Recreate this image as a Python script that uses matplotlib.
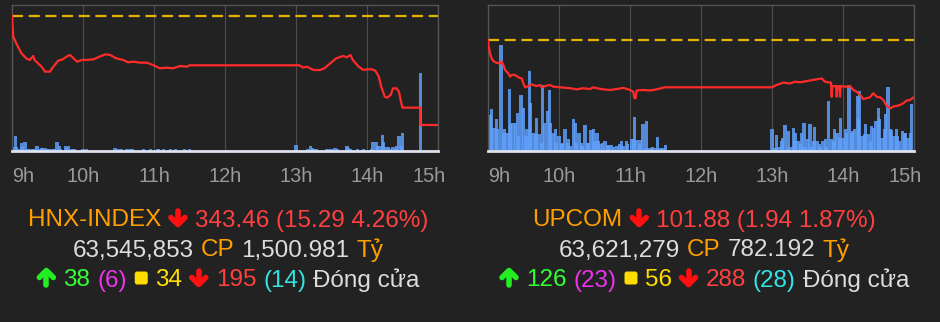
import matplotlib
matplotlib.use('Agg')
import matplotlib.pyplot as plt
from matplotlib.lines import Line2D
from matplotlib.patches import FancyBboxPatch
from matplotlib.transforms import IdentityTransform, offset_copy

plt.rcParams['font.family'] = ['Liberation Sans', 'DejaVu Sans']

W, H = 940, 322
BG = '#222222'

# time axis: minutes after 9:00
hour_ticks = [0, 60, 120, 180, 240, 300, 360]
hour_labels = ['9h', '10h', '11h', '12h', '13h', '14h', '15h']

# ---- HNX-INDEX ----
hnx_ref = 358.75
hnx_min = [0, 1, 3, 5, 8, 12, 15, 18, 19, 22, 25, 28, 32, 35, 39, 43, 46, 49, 52, 55,
           59, 63, 69, 74, 79, 83, 88, 94, 98, 103, 108, 114, 119, 125, 131, 136, 142, 148, 150, 243,
           246, 249, 255, 260, 264, 269, 274, 280, 283, 286, 288, 293, 297, 300, 304, 307, 310, 312, 315, 317,
           320, 322, 325, 327, 329, 330, 345, 345, 360]
hnx_val = [358.75, 355.85, 355.15, 354.45, 353.51, 352.81, 352.58, 353.14, 352.58, 352.11,
           351.64, 350.94, 350.94, 351.64, 352.48, 352.67, 353.04, 353.28, 352.81, 352.34,
           352.58, 352.58, 352.67, 353.04, 353.37, 353.28, 352.81, 352.58, 352.25, 352.34,
           352.20, 352.20, 351.88, 351.41, 351.50, 351.41, 351.73, 351.64, 351.83, 351.83,
           351.50, 351.64, 351.17, 351.17, 351.41, 352.11, 352.81, 353.14, 352.95, 353.28,
           352.58, 351.64, 351.17, 351.27, 351.27, 351.08, 350.24, 348.83, 347.43, 347.29,
           347.67, 348.60, 348.60, 348.13, 346.50, 345.89, 345.89, 343.46, 343.46]
hnx_vol_min = [1, 3, 4, 6, 8, 9, 11, 13, 14, 16, 18, 19, 21, 23, 25, 26, 28, 30, 31, 33,
               35, 36, 38, 40, 41, 45, 46, 48, 50, 52, 53, 60, 63, 87, 89, 92, 97, 99, 101, 102,
               111, 117, 123, 124, 128, 134, 138, 146, 150, 240, 250, 252, 254, 255, 257, 266, 268, 270, 273, 275,
               283, 284, 286, 292, 297, 304, 305, 308, 309, 311, 313, 314, 316, 318, 320, 322, 324, 325, 327, 329,
               330, 345]
hnx_vol = [3.7, 15, 3.7, 1.7, 7.7, 3.7, 9.3, 1.7, 1.7, 1.7, 1.7, 1.7, 5.3, 1.7, 3.3, 3.3, 3.3, 1.7, 1.7, 1.7,
           1.7, 1.7, 9.3, 5.3, 1.7, 5.3, 3.3, 5.3, 1.7, 1.7, 1.7, 1.7, 1.7, 3.3, 1.7, 1.7, 1.7, 1.7, 1.7, 1.7,
           1.7, 1.7, 1.7, 1.7, 1.7, 1.7, 1.7, 1.7, 1.7, 6, 1.7, 5.3, 3.3, 1.7, 1.7, 1.7, 1.7, 1.7, 3.3, 1.7,
           5.3, 3.3, 1.7, 1.7, 1.7, 1.7, 9.3, 9.3, 5.3, 5.3, 16, 9.3, 3.7, 3.7, 1.7, 3.7, 1.7, 5.3, 15, 5.3,
           17.7, 78]

# ---- UPCOM ----
upc_ref = 103.82
upc_min = [0, 0.6, 1.7, 3.1, 4.5, 7.3, 10.1, 11.5, 13, 14.4, 17.2, 18.6, 20, 22.8, 25.6, 28.5, 29.9, 31.3, 34.1, 36.9,
           41.1, 43.9, 45.4, 48.2, 52.4, 55.2, 60.8, 69.3, 74.9, 80.6, 86.2, 89, 91.8, 97.5, 103.1, 108.7, 114.4, 120, 122.8, 123.7,
           124.8, 125.6, 131.3, 136.9, 142.5, 148.2, 150, 240, 244, 249.6, 255.2, 259.4, 263.7, 269.3, 274.9, 282, 284.8, 289, 289.9, 290.4,
           291, 294.1, 294.7, 295.3, 296.9, 297.5, 298, 301.7, 305.9, 308.7, 311.6, 314.4, 317.2, 320, 322.8, 325.6, 328.5, 331.3, 334.1, 336.9,
           340.3, 342.5, 345.4, 348.2, 351, 353.8, 356.6, 359.4]
upc_val = [103.82, 103.61, 103.38, 103.21, 103.12, 103.06, 103.04, 103.10, 102.99, 102.82,
           102.70, 102.59, 102.65, 102.65, 102.57, 102.53, 102.36, 102.23, 102.27, 102.33,
           102.27, 102.31, 102.23, 102.27, 102.31, 102.25, 102.23, 102.20, 102.16, 102.20,
           102.17, 102.23, 102.20, 102.16, 102.14, 102.17, 102.21, 102.14, 102.08, 101.86,
           101.86, 102.12, 102.14, 102.12, 102.16, 102.22, 102.23, 102.23, 102.31, 102.39,
           102.36, 102.42, 102.40, 102.44, 102.48, 102.53, 102.42, 102.39, 102.39, 101.91,
           102.27, 102.27, 101.91, 102.27, 102.27, 101.91, 102.27, 102.25, 102.27, 102.14,
           102.08, 101.97, 101.83, 101.86, 101.89, 102.03, 101.91, 101.89, 101.80, 101.60,
           101.52, 101.58, 101.60, 101.63, 101.69, 101.78, 101.80, 101.88]
upc_vol_min = [2, 3, 5, 7, 8, 11, 13, 14, 16, 18, 19, 21, 23, 25, 26, 28, 30, 32, 33, 35,
               36, 38, 40, 41, 43, 45, 46, 48, 50, 52, 53, 55, 57, 58, 60, 62, 63, 65, 67, 68,
               70, 72, 74, 75, 77, 79, 80, 82, 84, 85, 87, 89, 90, 92, 93, 95, 97, 99, 101, 102,
               104, 106, 109, 111, 113, 114, 117, 118, 121, 123, 124, 126, 128, 129, 131, 133, 134, 136, 138, 139,
               141, 143, 144, 146, 148, 150,
               240, 241, 243, 244, 246, 248, 249, 251, 253, 254, 256, 258, 259, 260, 262, 264, 265, 267, 268, 270,
               272, 273, 275, 276, 278, 280, 281, 283, 285, 286, 288, 290, 292, 293, 295, 297, 298, 300, 302, 303,
               305, 307, 308, 310, 312, 313, 314, 316, 318, 319, 321, 323, 324, 326, 328, 330, 331, 333, 335, 336,
               338, 340, 341, 343, 345, 346, 348, 350, 352, 353, 355, 357, 358]
upc_vol = [36, 42, 23, 32, 22, 106, 18, 22, 18, 62, 27, 28, 28, 38, 15, 56, 43, 15, 22, 80,
           48, 18, 17, 33, 17, 8, 66, 28, 40, 61, 28, 18, 22, 8, 15, 7, 8, 22, 8, 12,
           5, 32, 28, 8, 18, 8, 5, 26, 8, 8, 21, 22, 10, 18, 10, 7, 8, 10, 6, 5,
           6, 4, 5, 7, 10, 5, 10, 7, 12, 12, 34, 11, 7, 11, 27, 3, 30, 3, 3, 4,
           3, 14, 2, 3, 3, 6,
           22, 3, 3, 16, 4, 10, 13, 26, 3, 20, 4, 23, 10, 18, 10, 7, 18, 28, 4, 12,
           27, 4, 10, 24, 10, 7, 4, 10, 12, 4, 50, 12, 10, 22, 18, 13, 33, 13, 22, 18,
           66, 18, 20, 22, 55, 33, 60, 15, 17, 27, 17, 10, 25, 23, 30, 43, 32, 13, 22, 37,
           64, 22, 21, 15, 22, 15, 10, 20, 18, 18, 13, 18, 47]

fig = plt.figure(figsize=(W / 100, H / 100), dpi=100, facecolor=BG)


def chart(left_px, mins, vals, ref, ylim, vmins, vols):
    ax = fig.add_axes([left_px / W, 1 - 151 / H, 426 / W, 146 / H])
    ax.set_facecolor(BG)
    ax.bar(vmins, vols, width=2.8, color='#60a2ff', alpha=0.82, linewidth=0, zorder=1)
    ax.set_xlim(0, 360)
    ax.set_ylim(0, 146)
    ax.set_xticks(hour_ticks)
    ax.set_yticks([])
    ax.tick_params(axis='x', length=0, labelbottom=False)
    ax.grid(axis='x', color='#4d4d4d', lw=0.8)
    ax.set_axisbelow(True)
    for s in ['left', 'right', 'top']:
        ax.spines[s].set_color('#555555')
        ax.spines[s].set_linewidth(1)
    ax.spines['bottom'].set_color('#dfe3ee')
    ax.spines['bottom'].set_linewidth(2)
    ax.spines['bottom'].set_zorder(5)

    ax2 = ax.twinx()
    ax2.set_ylim(*ylim)
    ax2.set_yticks([])
    for s in ax2.spines.values():
        s.set_visible(False)
    ax2.axhline(ref, color='#e5b400', lw=1.6, linestyle=(0, (5, 2.5)))
    ax2.plot(mins, vals, color='#ff2b2b', lw=1.6)

    base = ax.get_xaxis_transform()
    for i, (t, lab) in enumerate(zip(hour_ticks, hour_labels)):
        if i == 0:
            tr, ha = base, 'left'
        elif i == len(hour_ticks) - 1:
            tr, ha = offset_copy(base, fig=fig, x=-8.5, y=0, units='dots'), 'center'
        else:
            tr, ha = base, 'center'
        ax.text(t, -0.212, lab, transform=tr, ha=ha, va='baseline',
                fontsize=14.3, color='#9a9a9a')


chart(12, hnx_min, hnx_val, hnx_ref, (339.81, 360.29), hnx_vol_min, hnx_vol)
chart(488, upc_min, upc_val, upc_ref, (100.07, 105.02), upc_vol_min, upc_vol)

# ---- summary text rows ----
FS = 17.5
GAP = 7
ident = IdentityTransform()
ren = fig.canvas.get_renderer()


def arrow(x0, base, color, down):
    cx = x0 + 10
    if down:
        shaft = ([cx, cx], [base - 16, base - 3])
        head = ([x0 + 3, cx, x0 + 17], [base - 9, base - 2, base - 9])
    else:
        shaft = ([cx, cx], [base - 2, base - 15])
        head = ([x0 + 3, cx, x0 + 17], [base - 9, base - 16, base - 9])
    for xs, ys in (shaft, head):
        fig.add_artist(Line2D(xs, [H - y for y in ys], transform=ident, color=color,
                              lw=4.0, solid_capstyle='round', solid_joinstyle='round'))


def row(cx, base, parts):
    items = []
    for kind, s, col in parts:
        if kind == 't':
            t = fig.text(0, H - base, s, color=col, fontsize=FS, ha='left', va='baseline',
                         transform=ident)
            w = t.get_window_extent(ren).width
        else:
            t, w = None, {'up': 20, 'down': 20, 'sq': 14}[kind]
        items.append((kind, t, col, w))
    total = sum(i[3] for i in items) + GAP * (len(items) - 1)
    x = cx - total / 2
    for kind, t, col, w in items:
        if kind == 't':
            t.set_x(x)
        elif kind == 'sq':
            fig.add_artist(FancyBboxPatch((x + 1, H - base + 2), 13, 13,
                                          boxstyle='round,pad=0,rounding_size=2.5',
                                          transform=ident, color=col, lw=0))
        else:
            arrow(x, base, col, kind == 'down')
        x += w + GAP


ORANGE, RED, GREY = '#ffa000', '#ff4040', '#dddddd'
GREEN, MAG, YEL, CYAN, ARED, AGRN = '#33ff33', '#ee33ee', '#ffdd00', '#33e3e3', '#ff1010', '#22ee22'

blocks = [
    (228, ['HNX-INDEX', '343.46 (15.29 4.26%)', '63,545,853', '1,500.981', '38', '(6)', '34', '195', '(14)']),
    (704, ['UPCOM', '101.88 (1.94 1.87%)', '63,621,279', '782.192', '126', '(23)', '56', '288', '(28)']),
]
for cx, v in blocks:
    row(cx, 226.5, [('t', v[0], ORANGE), ('down', '', ARED), ('t', v[1], RED)])
    row(cx, 256.5, [('t', v[2], GREY), ('t', 'CP', ORANGE), ('t', v[3], GREY), ('t', 'Tỷ', ORANGE)])
    row(cx, 286.5, [('up', '', AGRN), ('t', v[4], GREEN), ('t', v[5], MAG), ('sq', '', YEL),
                    ('t', v[6], YEL), ('down', '', ARED), ('t', v[7], RED), ('t', v[8], CYAN),
                    ('t', 'Đóng cửa', GREY)])

fig.savefig('out.png', dpi=100, facecolor=BG)
